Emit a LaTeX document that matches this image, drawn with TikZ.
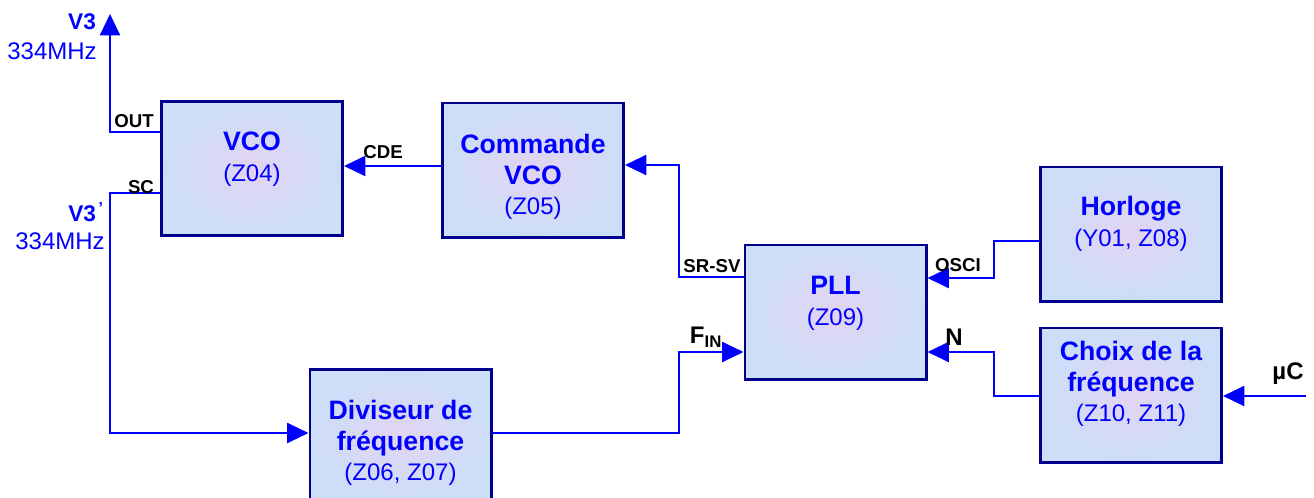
\documentclass[tikz,border=0pt]{standalone}
\usepackage{fontspec}
\setmainfont{Liberation Sans}
\usetikzlibrary{arrows.meta}
\definecolor{wireblue}{RGB}{0,0,255}
\definecolor{boxnavy}{RGB}{0,0,140}
\definecolor{boxblue}{RGB}{204,222,248}
\definecolor{boxpink}{RGB}{226,212,242}
\newcommand{\blocktitle}[1]{{\fontsize{20}{23}\selectfont\bfseries #1}}
\begin{document}
\begin{tikzpicture}[y=-.75pt, x=.75pt, font=\fontsize{18}{23}\selectfont,
	block/.style={draw=boxnavy, line width=2pt, inner color=boxpink, outer color=boxblue,
		minimum width=136pt, minimum height=100.75pt, inner sep=0pt},
	blocktext/.style={text=wireblue, align=center, inner sep=0pt},
	wire/.style={draw=wireblue, line width=1.6pt},
	sig/.style={wire, -{Triangle[length=16pt, width=15pt]}},
	port/.style={font=\fontsize{14}{16}\selectfont\bfseries, inner sep=0pt},
	volt/.style={text=wireblue, inner sep=0pt}]
	\useasboundingbox (0,0) rectangle (1314,497);
	%blocks
	\node[block] (vco) at (252,168.5) {};
	\node[block] (cmd) at (533,170) {};
	\node[block] (pll) at (835.5,312) {};
	\node[block] (hor) at (1131,234) {};
	\node[block] (choix) at (1131,395) {};
	\node[block] (div) at (400.5,436.5) {};
	%block texts
	\node[blocktext] (vco-t) at (252,159) {\blocktitle{VCO}\\(Z04)};
	\node[blocktext] (cmd-t) at (533,177) {\blocktitle{Commande}\\\blocktitle{VCO}\\(Z05)};
	\node[blocktext] (pll-t) at (835.5,303) {\blocktitle{PLL}\\(Z09)};
	\node[blocktext] (hor-t) at (1131,224) {\blocktitle{Horloge}\\(Y01, Z08)};
	\node[blocktext] (choix-t) at (1131,384) {\blocktitle{Choix de la}\\\blocktitle{fréquence}\\(Z10, Z11)};
	\node[blocktext] (div-t) at (400.5,443) {\blocktitle{Diviseur de}\\\blocktitle{fréquence}\\(Z06, Z07)};
	%bends
	\coordinate (outbend) at (110,132);
	\coordinate (v3tip) at (110,14);
	\coordinate (scbend) at (110,193);
	\coordinate (divbend) at (110,433);
	\coordinate (finbend) at (679,352);
	\coordinate (srsv) at (679,277);
	\coordinate (srbend) at (679,165);
	\coordinate (cde) at (390,166);
	\coordinate (oscin) at (994,241);
	\coordinate (oscbend) at (994,278);
	\coordinate (nbend) at (994,396);
	\coordinate (nin) at (994,352);
	\coordinate (muc) at (1306,396);
	%wires
	\draw[sig] (vco.west |- outbend) -- (outbend) -- (v3tip);
	\draw[sig] (vco.west |- scbend) -- (scbend) -- (divbend) -- (div.west |- divbend);
	\draw[sig] (div.east |- divbend) -| (finbend) -- (pll.west |- finbend);
	\draw[sig] (pll.west |- srsv) -- (srsv) -- (srbend) -- (cmd.east |- srbend);
	\draw[sig] (cmd.west |- cde) -- (vco.east |- cde);
	\draw[sig] (hor.west |- oscin) -- (oscin) -- (oscbend) -- (pll.east |- oscbend);
	\draw[sig] (choix.west |- nbend) -- (nbend) -- (nin) -- (pll.east |- nin);
	\draw[sig] (muc) -- (choix.east |- muc);
	%labels
	\node[port] (out-l) at (134,121) {OUT};
	\node[port] (sc-l) at (141,187) {SC};
	\node[port] (cde-l) at (383,152) {CDE};
	\node[port] (srsv-l) at (712,266) {SR-SV};
	\node[port] (osci-l) at (958,265) {OSCI};
	\node[port, font=\fontsize{18}{20}\selectfont\bfseries] (fin-l) at (706,337) {F\textsubscript{IN}};
	\node[port, font=\fontsize{18}{20}\selectfont\bfseries] (n-l) at (954,337) {N};
	\node[port, font=\fontsize{18}{20}\selectfont\bfseries] (muc-l) at (1288,374) {µC};
	\node[volt, font=\fontsize{17}{20}\selectfont\bfseries] (v3-l) at (82,22) {V3};
	\node[volt] (v3f-l) at (52,51) {334MHz};
	\node[volt, font=\fontsize{17}{20}\selectfont\bfseries] (v3b-l) at (86,212) {V3\textsuperscript{\,'}};
	\node[volt] (v3bf-l) at (60,241) {334MHz};
\end{tikzpicture}
\end{document}
